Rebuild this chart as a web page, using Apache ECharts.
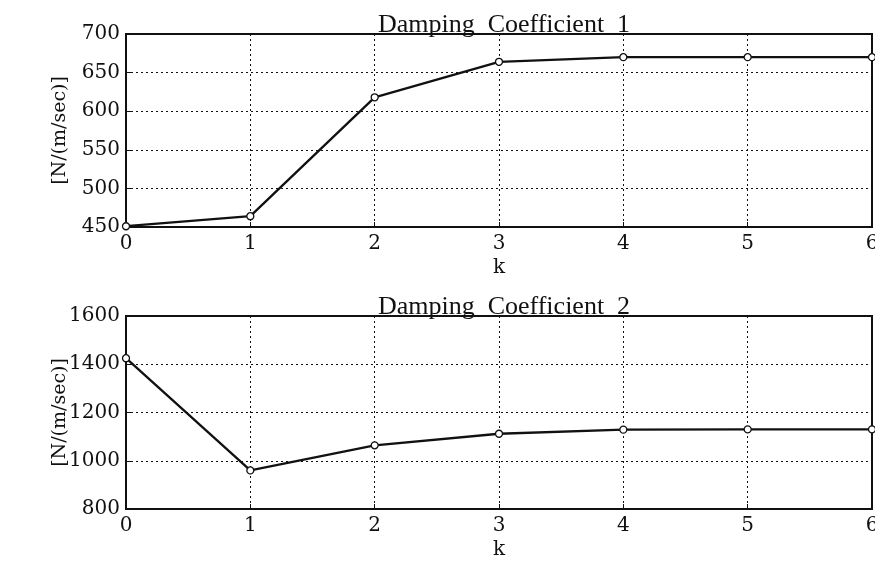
<!DOCTYPE html>
<html>
<head>
<meta charset="utf-8">
<script src="https://cdn.jsdelivr.net/npm/echarts@6/dist/echarts.min.js"></script>
<style>
html,body{margin:0;padding:0;background:#fff;}
#chart{width:875px;height:561px;}
</style>
</head>
<body>
<div id="chart"></div>
<script>
// Iteration index and identified damping coefficients
const kSteps = [0, 1, 2, 3, 4, 5, 6];
const damping1 = [451, 464, 618, 664, 670, 670, 670];
const damping2 = [1425, 960, 1064, 1112, 1129, 1130, 1130];
const titles = ['Damping  Coefficient  1', 'Damping  Coefficient  2'];
const yUnit = '[N/(m/sec)]';

const SERIF = '"Liberation Serif", "DejaVu Serif", serif';
const WIDE = '"DejaVu Serif", serif';
const INK = '#111';

function pairs(vals) { return kSteps.map((k, i) => [k, vals[i]]); }

function xAxisCfg(gridIndex) {
  return {
    gridIndex, type: 'value', min: 0, max: 6, interval: 1,
    name: 'k', nameLocation: 'middle', nameGap: 31, nameMoveOverlap: false,
    nameTextStyle: { fontFamily: WIDE, fontSize: 20, color: INK },
    axisLine: { show: true, lineStyle: { color: INK, width: 2 } },
    axisTick: { show: true, inside: true, length: 5, lineStyle: { color: INK } },
    axisLabel: { fontFamily: WIDE, fontSize: 20, color: INK, margin: 7 },
    splitLine: { show: true, lineStyle: { color: INK, type: [2, 3], width: 1 } }
  };
}

function yAxisCfg(gridIndex, min, max, interval) {
  return {
    gridIndex, type: 'value', min, max, interval,
    name: yUnit, nameLocation: 'middle', nameGap: 56, nameRotate: 90,
    nameMoveOverlap: false,
    nameTextStyle: { fontFamily: WIDE, fontSize: 19, color: INK },
    axisLine: { show: true, lineStyle: { color: INK, width: 2 } },
    axisTick: { show: true, inside: true, length: 5, lineStyle: { color: INK } },
    axisLabel: { fontFamily: WIDE, fontSize: 20, color: INK, margin: 6,
      formatter: v => String(v) },
    splitLine: { show: true, lineStyle: { color: INK, type: [2, 3], width: 1 } }
  };
}

function seriesCfg(idx, vals) {
  return {
    type: 'line', xAxisIndex: idx, yAxisIndex: idx,
    data: pairs(vals),
    symbol: 'circle', symbolSize: 7, showSymbol: true,
    itemStyle: { color: '#fff', borderColor: INK, borderWidth: 1.3 },
    lineStyle: { color: INK, width: 2.3 },
    animation: false, silent: true
  };
}

const chart = echarts.init(document.getElementById('chart'), null, { renderer: 'canvas' });
chart.setOption({
  backgroundColor: '#fff',
  animation: false,
  title: [
    { text: titles[0], left: 499, top: 7, textAlign: 'center',
      textStyle: { fontFamily: SERIF, fontSize: 26, fontWeight: 'normal', color: INK } },
    { text: titles[1], left: 499, top: 289, textAlign: 'center',
      textStyle: { fontFamily: SERIF, fontSize: 26, fontWeight: 'normal', color: INK } }
  ],
  grid: [
    { left: 126, right: 3, top: 34, height: 193, outerBoundsMode: 'none',
      show: true, borderColor: INK, borderWidth: 2, backgroundColor: 'transparent' },
    { left: 126, right: 3, top: 316, height: 193, outerBoundsMode: 'none',
      show: true, borderColor: INK, borderWidth: 2, backgroundColor: 'transparent' }
  ],
  xAxis: [xAxisCfg(0), xAxisCfg(1)],
  yAxis: [yAxisCfg(0, 450, 700, 50), yAxisCfg(1, 800, 1600, 200)],
  series: [seriesCfg(0, damping1), seriesCfg(1, damping2)]
});
</script>
</body>
</html>
